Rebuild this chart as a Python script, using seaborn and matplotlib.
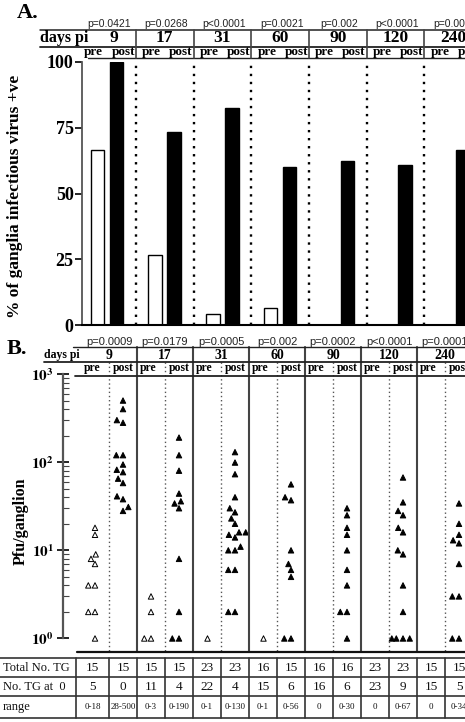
import matplotlib
matplotlib.use("Agg")
import matplotlib.pyplot as plt
from matplotlib.lines import Line2D
from matplotlib.transforms import blended_transform_factory as btf
from matplotlib.ticker import FixedLocator, NullFormatter
import seaborn as sns
import pandas as pd

# ---------------- data ----------------
days = ["9", "17", "31", "60", "90", "120", "240"]
phases = ["pre", "post"]

# Panel A: % of ganglia infectious virus +ve
p_values_a = ["p=0.0421", "p=0.0268", "p<0.0001", "p=0.0021", "p=0.002", "p<0.0001", "p=0.0001"]
pct_pre = [66.7, 26.7, 4.3, 6.3, 0, 0, 0]
pct_post = [100, 73.3, 82.6, 60.0, 62.5, 60.9, 66.7]
yticks_a = [0, 25, 50, 75, 100]

# Panel B: Pfu/ganglion (non-zero ganglia only)
p_values_b = ["p=0.0009", "p=0.0179", "p=0.0005", "p=0.002", "p=0.0002", "p<0.0001", "p=0.0001"]
pre_9 = [18, 15, 9, 8, 7, 4, 4, 2, 2, 1]
post_9 = [500, 400, 300, 280, 120, 120, 94, 82, 77, 65, 58, 41, 38, 31, 28]
pre_17 = [3, 2, 1, 1]
post_17 = [190, 120, 80, 44, 36, 34, 30, 8, 2, 1, 1]
pre_31 = [1]
post_31 = [130, 99, 73, 40, 30, 27, 23, 20, 16, 16, 15, 14, 11, 10, 10, 6, 6, 2, 2]
pre_60 = [1]
post_60 = [56, 40, 37, 10, 7, 6, 5, 1, 1]
pre_90 = []
post_90 = [30, 25, 18, 15, 10, 6, 4, 2, 2, 1]
pre_120 = []
post_120 = [67, 35, 28, 25, 18, 16, 10, 9, 4, 2, 1, 1, 1, 1]
pre_240 = []
post_240 = [34, 20, 15, 13, 12, 7, 3, 3, 1, 1]
decade_ticks = [1, 10, 100, 1000]

# Table under panel B
row_labels = ["Total No. TG", "No. TG at  0", "range"]
total_tg = [15, 15, 15, 15, 23, 23, 16, 15, 16, 16, 23, 23, 15, 15]
zero_tg = [5, 0, 11, 4, 22, 4, 15, 6, 16, 6, 23, 9, 15, 5]
ranges = ["0-18", "28-500", "0-3", "0-190", "0-1", "0-130", "0-1", "0-56",
          "0", "0-30", "0", "0-67", "0", "0-34"]

groups_b = [pre_9, post_9, pre_17, post_17, pre_31, post_31, pre_60, post_60,
            pre_90, post_90, pre_120, post_120, pre_240, post_240]

# ---------------- style ----------------
sns.set_style("ticks")
SERIF = ["Liberation Serif", "DejaVu Serif"]
SANS = ["Liberation Sans", "DejaVu Sans"]
plt.rcParams["font.family"] = SERIF
plt.rcParams["mathtext.fontset"] = "stix"
plt.rcParams["text.color"] = "black"

W, H = 465, 722
fig = plt.figure(figsize=(W / 100, H / 100), dpi=100)
fig.patch.set_facecolor("white")


def fx(px):
    return px / W


def fy(py):
    return 1 - py / H


def add_ax(l, t, r, b):
    return fig.add_axes([l / W, 1 - b / H, (r - l) / W, (b - t) / H])


def hline(x0, x1, y, lw=1.2, color="#222"):
    fig.add_artist(Line2D([fx(x0), fx(x1)], [fy(y), fy(y)], lw=lw, color=color))


def vline(trans, x, y0, y1, lw=1.2, color="#222", ls="-"):
    fig.add_artist(Line2D([x, x], [fy(y0), fy(y1)], transform=trans, lw=lw,
                          color=color, ls=ls))


# ---------------- Panel A ----------------
axA = add_ax(82, 62, 465, 325)
dfA = pd.DataFrame({
    "day": days * 2,
    "phase": ["pre"] * len(days) + ["post"] * len(days),
    "pct": pct_pre + pct_post,
})
sns.barplot(data=dfA, x="day", y="pct", hue="phase", order=days, hue_order=phases,
            palette={"pre": "white", "post": "black"}, edgecolor="black",
            linewidth=1.0, width=0.66, gap=0.29, errorbar=None, legend=False, ax=axA)
axA.set_xlim(-0.433, 6.204)
axA.set_ylim(0, 100)
axA.set_xlabel("")
axA.set_ylabel("")
axA.set_xticks([])
axA.set_yticks(yticks_a)
axA.set_yticklabels([str(v) for v in yticks_a], fontsize=13, fontweight="bold",
                    family=SERIF)
axA.tick_params(axis="y", direction="out", length=5, width=1.2, pad=1, colors="black")
for s in ["top", "right"]:
    axA.spines[s].set_visible(False)
axA.spines["left"].set_bounds(0, 100)
axA.spines["left"].set_color("#555")
axA.spines["left"].set_linewidth(1.3)
axA.spines["bottom"].set_color("black")
axA.spines["bottom"].set_linewidth(1.5)
for i in range(len(days) - 1):
    axA.axvline(i + 0.5, color="black", lw=1.7, ls=(0, (1, 2.4)))

tA = btf(axA.transData, fig.transFigure)
for i, p in enumerate(p_values_a):
    fig.text(i + 0.03, fy(24), p, transform=tA, ha="center", va="center",
             fontsize=7.5, family=SANS, color="#222")
hline(40, 465, 29.5, lw=1.1)
hline(40, 465, 46.5, lw=1.3)
hline(88, 465, 57.5, lw=1.0)
for i in range(len(days) - 1):
    vline(tA, i + 0.5, 29.5, 58, lw=1.2, color="#444")
fig.text(fx(40), fy(38.5), "days pi", ha="left", va="center", fontsize=11.5,
         fontweight="bold")
for i, d in enumerate(days):
    fig.text(i + (0.12 if i == 0 else 0), fy(38.5), d, transform=tA, ha="center",
             va="center", fontsize=12.5, fontweight="bold")
    fig.text(i - 0.23, fy(52), "pre", transform=tA, ha="center", va="center",
             fontsize=9.5, fontweight="bold")
    fig.text(i + 0.28, fy(52), "post", transform=tA, ha="center", va="center",
             fontsize=9.5, fontweight="bold")
fig.text(fx(17), fy(13), "A.", ha="left", va="center", fontsize=16, fontweight="bold")
fig.text(fx(15), fy(196), "% of ganglia infectious virus +ve", rotation=90,
         ha="center", va="center", fontsize=12.5, fontweight="bold")

# ---------------- Panel B ----------------
cats = [f"{d} {ph}" for d in days for ph in phases]
rows = []
for cat, vals in zip(cats, groups_b):
    ph = cat.split(" ")[1]
    for v in vals:
        rows.append({"cat": cat, "phase": ph, "pfu": v})
dfB = pd.DataFrame(rows)

axB = add_ax(63, 374, 465, 651.7)
sns.swarmplot(data=dfB, x="cat", y="pfu", hue="phase", order=cats, hue_order=phases,
              palette={"pre": "white", "post": "black"}, marker="^", size=3.9,
              edgecolor="black", linewidth=0.7, legend=False, log_scale=True, ax=axB)
axB.set_xlim(-1.143, 13.214)
axB.set_ylim(0.708, 1000)
axB.set_xlabel("")
axB.set_ylabel("")
axB.set_xticks([])
axB.set_yticks(decade_ticks)
axB.set_yticklabels([rf"$\mathbf{{10^{{{k}}}}}$" for k in range(len(decade_ticks))],
                    fontsize=11)
minor = [m * d for d in decade_ticks[:-1] for m in range(2, 10)]
axB.yaxis.set_minor_locator(FixedLocator(minor))
axB.yaxis.set_minor_formatter(NullFormatter())
axB.tick_params(axis="y", which="major", direction="inout", length=9, width=1.2,
                pad=2, colors="black")
axB.tick_params(axis="y", which="minor", direction="in", length=4, width=0.8,
                colors="#444")
for s in ["top", "right", "bottom"]:
    axB.spines[s].set_visible(False)
axB.spines["left"].set_bounds(1, 1000)
axB.spines["left"].set_color("#555")
axB.spines["left"].set_linewidth(1.6)

tB = btf(axB.transData, fig.transFigure)
for i in range(len(days) - 1):
    vline(tB, 2 * i + 1.5, 347, 651.7, lw=1.5, color="#444")
for i in range(len(days)):
    vline(tB, 2 * i + 0.5, 362, 651.7, lw=1.0, color="#555", ls=(0, (1, 2)))
hline(73, 465, 347, lw=1.0)
hline(44, 465, 362, lw=1.3)
hline(75, 465, 375.5, lw=1.3)
hline(77, 465, 651.7, lw=1.6, color="#111")
for i, p in enumerate(p_values_b):
    fig.text(2 * i + 0.5, fy(342), p, transform=tB, ha="center", va="center",
             fontsize=8, family=SANS, color="#222")
fig.text(fx(44), fy(355), "days pi", ha="left", va="center", fontsize=8.5,
         fontweight="bold")
for i, d in enumerate(days):
    fig.text(2 * i + 0.5, fy(355), d, transform=tB, ha="center", va="center",
             fontsize=10, fontweight="bold")
    fig.text(2 * i - 0.1, fy(368.5), "pre", transform=tB, ha="center", va="center",
             fontsize=8.5, fontweight="bold")
    fig.text(2 * i + 1, fy(368.5), "post", transform=tB, ha="center", va="center",
             fontsize=8.5, fontweight="bold")
fig.text(fx(7), fy(349), "B.", ha="left", va="center", fontsize=16, fontweight="bold")
fig.text(fx(21), fy(521), "Pfu/ganglion", rotation=90, ha="center", va="center",
         fontsize=11.5, fontweight="bold")

# ---------------- Table ----------------
for y in (658, 677, 696, 718):
    hline(0, 465, y, lw=1.2, color="#333")
vline(fig.transFigure, fx(76), 658, 718, lw=1.2, color="#333")
for k in range(len(cats) - 1):
    vline(tB, k + 0.5, 658, 718, lw=1.2, color="#333")
first_edge = (76 - 95) / 28
edges = [first_edge] + [k + 0.5 for k in range(len(cats))]
centers = [(a + b) / 2 for a, b in zip(edges[:-1], edges[1:])]
row_y = [668, 686.5, 707]
for lab, y in zip(row_labels, row_y):
    fig.text(fx(3), fy(y), lab, ha="left", va="center", fontsize=9, color="#111")
for c, t, z, r in zip(centers, total_tg, zero_tg, ranges):
    fig.text(c, fy(row_y[0]), str(t), transform=tB, ha="center", va="center",
             fontsize=9.5, color="#111")
    fig.text(c, fy(row_y[1]), str(z), transform=tB, ha="center", va="center",
             fontsize=9.5, color="#111")
    fig.text(c, fy(row_y[2]), r, transform=tB, ha="center", va="center",
             fontsize=6.5, color="#111")

fig.savefig("out.png", dpi=100)
